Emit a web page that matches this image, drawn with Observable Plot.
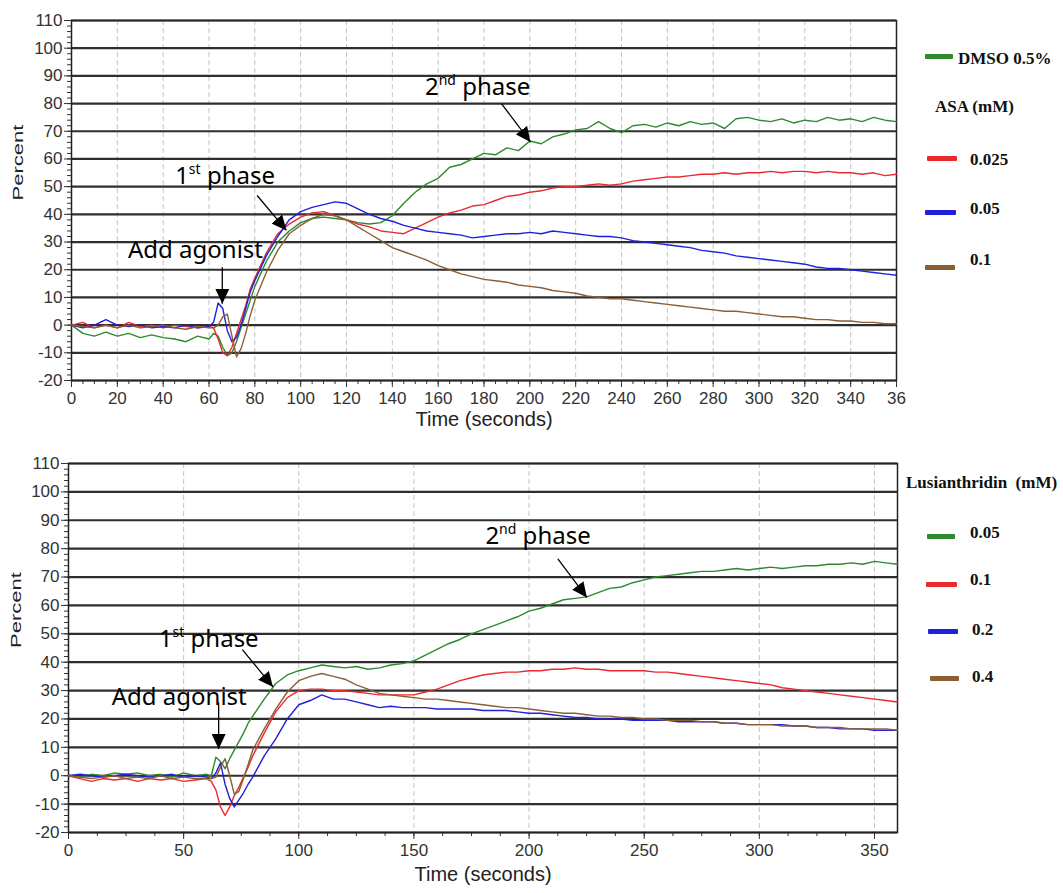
<!DOCTYPE html>
<html><head><meta charset="utf-8">
<script src="https://cdn.jsdelivr.net/npm/d3@7"></script>
<script src="https://cdn.jsdelivr.net/npm/@observablehq/plot@0.6"></script>
<style>
body{margin:0;background:#fff;width:1063px;height:893px;position:relative;overflow:hidden;font-family:"Liberation Sans",Arial,sans-serif;}
#top{position:absolute;left:0;top:0;}
#bot{position:absolute;left:0;top:450px;}
.leg{position:absolute;font-family:"Liberation Serif","Times New Roman",serif;font-weight:bold;font-size:17px;color:#111;line-height:17px;white-space:pre;}
.sw{position:absolute;height:5px;border-radius:1px;}
</style></head><body>
<div id="top"></div><div id="bot"></div><div id="legend"></div>
<script>
// ---------- data ----------
const time = [0,5,10,15,20,25,30,35,40,45,
  50,55,60,62,64,66,68,70,72,74,
  76,78,80,85,90,95,100,105,110,115,
  120,125,130,135,140,145,150,155,160,165,
  170,175,180,185,190,195,200,205,210,215,
  220,225,230,235,240,245,250,255,260,265,
  270,275,280,285,290,295,300,305,310,315,
  320,325,330,335,340,345,350,355,360];

// Top panel: DMSO / ASA
const topNames = ["DMSO 0.5%","0.025","0.05","0.1"];
const topColors = ["#2d8a2d","#e82a2e","#2020dc","#8b5e34"];
const topDMSO = [0,-3,-4,-2.5,-4,-3,-4.5,-3.5,-4.5,-5,
  -6,-4,-5,-3,-4,-8,-11,-10,-6,-1,
  4,9,14,23,30,34,37,38.5,39,38.5,
  38,37,36.5,37,39.5,44,48,51,53,57,
  58,60,62,61.5,64,63,66.5,65.5,68,69,
  70.5,71,73.5,71,69.5,72,72.5,71.5,73,72,
  73.5,72.5,73,71,74.5,75,74,73.5,74.5,73,
  74,73.5,75,74,74.5,73.5,75,74,73.5];
const topASA025 = [0,1,-1,0,-1,1,-0.5,0,-1,0,
  -0.5,-1,-0.5,-1,-5,-10,-11,-8,-3,2,
  7,13,17,26,33,36.5,39,40.5,41,39.5,
  38,36.5,35.5,34,33.5,33,35,37,39,40.5,
  41.5,43,43.5,45,46.5,47,48,48.5,49.5,50,
  50,50.5,51,50.5,51,52,52.5,53,53.5,53.5,
  54,54.5,54.5,55,54.5,55,55,55.5,55,55.5,
  55.5,55,55.5,55,55,54.5,55,54,54.5];
const topASA05 = [0,-1,0,2,0,-0.5,0,-1,-0.5,-1,
  0,-1,-0.5,1,8,6,-2,-6,-4.5,0,
  6,12,16,25,32,38,41,42.5,43.5,44.5,
  44,42,40,38.5,37.5,36,35,34,33.5,33,
  32.5,31.5,32,32.5,33,33,33.5,33,34,33.5,
  33,32.5,32,32,31.5,30.5,30,29.5,29,28.5,
  28,27,26.5,26,25,24.5,24,23.5,23,22.5,
  22,21,20.5,20.5,20,19.5,19,18.5,18];
const topASA1 = [0,-0.5,-1,0,-1,0,-1,-0.5,0,-1,
  -1.5,-0.5,-1,-1,0,3,4,-4,-11.5,-8.5,
  -3,3.5,9,19,27,33,36,38.5,40,39.5,
  38,35.5,33,30.5,28,26.5,25,23.5,21.5,20,
  18.5,17.5,16.5,16,15.5,14.5,14,13.5,12.5,12,
  11.5,10.5,10,9.5,9.5,9,8.5,8,7.5,7,
  6.5,6,5.5,5,5,4.5,4,3.5,3,3,
  2.5,2,2,1.5,1.5,1,1,0.5,0.5];

// Bottom panel: Lusianthridin
const botNames = ["0.05","0.1","0.2","0.4"];
const botColors = ["#2d8a2d","#e82a2e","#2020dc","#8b5e34"];
const botL005 = [0,-0.5,0.5,0,1,0.5,1,0,0.5,-0.5,
  1,0,0.5,0,6.5,5,2.5,6,9,12,
  15,18.5,21,27,32.5,35.5,37,38,39,38.5,
  38,38.5,37.5,38,39,39.5,40.5,42.5,44.5,46.5,
  48,50,51.5,53,54.5,56,58,59,60.5,62,
  62.5,63,64.5,66,66.5,68,69,70,70.5,71,
  71.5,72,72,72.5,73,72.5,73,73.5,73,73.5,
  74,74,74.5,74.5,75,74.5,75.5,75,74.5];
const botL01 = [0,-1,-2,-1,-1.5,-1,-2,-1,-1.5,-1,
  -2,-1.5,-1,-2,-5,-11,-14,-11,-7,-4,
  -0.5,3,7,15,22.5,27.5,30,30.5,30.5,30,
  30,29.5,29,28.5,28.5,28.5,28.5,29.5,30.5,32,
  33.5,34.5,35.5,36,36.5,36.5,37,37,37.5,37.5,
  38,37.5,37.5,37,37,37,37,36.5,36.5,36,
  35.5,35,34.5,34,33.5,33,32.5,32,31,30.5,
  30,29.5,29,28.5,28,27.5,27,26.5,26];
const botL02 = [0,0.5,0,-0.5,0,0.5,0,-0.5,0,0.5,
  -0.5,0,-0.5,-1,1,4.5,-3,-8,-11,-8.5,
  -6,-3,-0.5,7,13,20,25,26.5,28.5,27,
  27,26,25,24,24.5,24,24,24,23.5,23.5,
  23.5,23.5,23,23,23,22.5,22,22,21.5,21,
  20.5,20.5,20,20,20,19.5,19.5,19.5,19.5,19,
  19,19,19,18.5,18.5,18,18,18,18,17.5,
  17.5,17,17,16.5,16.5,16.5,16,16,16];
const botL04 = [0,-0.5,-1,-0.5,0,-1,-0.5,-1,0,-1,
  -0.5,-1,-1,-1,-0.5,3,6,0,-6.5,-5.5,
  -1,4,9,16.5,23.5,29.5,33.5,35,36,35,
  34,32,30.5,29,28.5,28,27.5,27,27,26.5,
  26,25.5,25,24.5,24,24,23.5,23,22.5,22,
  22,21.5,21,21,20.5,20.5,20,20,19.5,19.5,
  19.5,19,19,18.5,18.5,18,18,18,17.5,17.5,
  17.5,17,17,17,16.5,16.5,16.5,16.5,16];

// Axis ticks and labels
const yTicks = [-20,-10,0,10,20,30,40,50,60,70,80,90,100,110];
const topXTicks = [0,20,40,60,80,100,120,140,160,180,200,220,240,260,280,300,320,340,360];
const topXTickLabels = ["0","20","40","60","80","100","120","140","160","180","200","220","240","260","280","300","320","340","36"];
const botXTicks = [0,50,100,150,200,250,300,350];
const botXTickLabels = ["0","50","100","150","200","250","300","350"];

// Annotations (data coordinates)
const topNotes = [
  {label:"Add agonist", t:54.1, v:26.9},
  {label:"1st phase", t:67, v:53.7},
  {label:"2nd phase", t:177.2, v:85.8}];
const topArrows = [
  {t1:65.8, v1:20.9, t2:65.8, v2:7.7},
  {t1:81, v1:46.8, t2:93.8, v2:34.2},
  {t1:187.6, v1:80, t2:200.3, v2:66.1}];
const botNotes = [
  {label:"Add agonist", t:48.1, v:27.5},
  {label:"1st phase", t:60.9, v:48.2},
  {label:"2nd phase", t:203.9, v:84.2}];
const botArrows = [
  {t1:65.2, v1:25.8, t2:65.2, v2:9.4},
  {t1:75.5, v1:44.4, t2:88.8, v2:31.3},
  {t1:212.5, v1:76.4, t2:225.1, v2:62.8}];

// ---------- drawing ----------
function toRows(names, arrays) {
  const rows = [];
  names.forEach((n, k) => arrays[k].forEach((v, i) => rows.push({t: time[i], v, s: n})));
  return rows;
}

function chart(cfg) {
  const labelMap = new Map(cfg.xTicks.map((d, i) => [d, cfg.xTickLabels[i]]));
  const svg = Plot.plot({
    width: 900, height: cfg.height,
    marginLeft: cfg.ml, marginRight: cfg.mr, marginTop: cfg.mt, marginBottom: cfg.mb,
    x: {domain: [0, 360]},
    y: {domain: [-20, 110]},
    color: {domain: cfg.names, range: cfg.colors},
    style: {fontFamily: "Liberation Sans, Arial, sans-serif", fontSize: "17px", color: "#333", background: "white", overflow: "visible"},
    marks: [
      Plot.ruleX(cfg.vGrid, {stroke: "#c4c4c4", strokeDasharray: "5,3", strokeWidth: 1}),
      Plot.ruleY(yTicks, {stroke: "#2e2e2e", strokeWidth: 2.2}),
      Plot.axisY({ticks: d3.range(-20, 111, 2), tickSize: 4, tickFormat: () => "", label: null}),
      Plot.axisY({ticks: yTicks, tickSize: 7, tickPadding: 2, tickFormat: d => String(d), label: null}),
      Plot.axisX({ticks: cfg.xMinor, tickSize: 4, tickFormat: () => "", label: null}),
      Plot.axisX({ticks: cfg.xTicks, tickSize: 7, tickPadding: 4, tickFormat: d => labelMap.get(d), label: null}),
      Plot.frame({stroke: "#222", strokeWidth: 1.5}),
      Plot.line(cfg.rows, {x: "t", y: "v", z: "s", stroke: "s", strokeWidth: 1.4}),
      Plot.link(cfg.arrows, {x1: "t1", y1: "v1", x2: "t2", y2: "v2", stroke: "black", strokeWidth: 1.3}),
      Plot.text(cfg.notes, {x: "t", y: "v", text: "label", fontSize: 24, fontFamily: "Noto Sans", fill: "black"}),
      Plot.text(["Time (seconds)"], {text: d => d, frameAnchor: "bottom", dy: cfg.timeDy, fontSize: 20, fill: "#222"}),
      Plot.text(["Percent"], {text: d => d, frameAnchor: "left", dx: cfg.pctDx, rotate: -90, fontSize: 14, fill: "#222"})
    ]
  });
  // arrowheads
  const ns = "http://www.w3.org/2000/svg";
  const defs = document.createElementNS(ns, "defs");
  const marker = document.createElementNS(ns, "marker");
  marker.setAttribute("id", cfg.id + "ah");
  marker.setAttribute("viewBox", "0 -7 15 14");
  marker.setAttribute("markerWidth", "15");
  marker.setAttribute("markerHeight", "14");
  marker.setAttribute("refX", "15");
  marker.setAttribute("refY", "0");
  marker.setAttribute("orient", "auto");
  marker.setAttribute("markerUnits", "userSpaceOnUse");
  const mp = document.createElementNS(ns, "path");
  mp.setAttribute("d", "M0,-7L15,0L0,7Z");
  mp.setAttribute("fill", "black");
  marker.appendChild(mp); defs.appendChild(marker); svg.insertBefore(defs, svg.firstChild);
  svg.querySelectorAll('g[aria-label="link"] path, g[aria-label="link"] line').forEach(p => p.setAttribute("marker-end", `url(#${cfg.id}ah)`));
  // superscripts and stretched y label
  svg.querySelectorAll("text").forEach(t => {
    const m = t.textContent.match(/^(\d)(st|nd) phase$/);
    if (m && t.children.length === 0) {
      t.textContent = "";
      const a = document.createElementNS(ns, "tspan"); a.textContent = m[1];
      const b = document.createElementNS(ns, "tspan"); b.textContent = m[2]; b.setAttribute("font-size", "14"); b.setAttribute("dy", "-10");
      const c = document.createElementNS(ns, "tspan"); c.textContent = "\u00a0phase"; c.setAttribute("dy", "10");
      t.append(a, b, c);
    }
    if (t.textContent === "Percent") {
      t.setAttribute("textLength", "76");
      t.setAttribute("lengthAdjust", "spacingAndGlyphs");
    }
  });
  return svg;
}

document.getElementById("top").appendChild(chart({
  id: "top", height: 445, ml: 71, mr: 4, mt: 20, mb: 65,
  names: topNames, colors: topColors,
  rows: toRows(topNames, [topDMSO, topASA025, topASA05, topASA1]),
  xTicks: topXTicks, xTickLabels: topXTickLabels, xMinor: d3.range(0, 361, 5),
  vGrid: d3.range(20, 360, 20), notes: topNotes, arrows: topArrows,
  timeDy: 45, pctDx: -53
}));
document.getElementById("bot").appendChild(chart({
  id: "bot", height: 443, ml: 68, mr: 3, mt: 13, mb: 61,
  names: botNames, colors: botColors,
  rows: toRows(botNames, [botL005, botL01, botL02, botL04]),
  xTicks: botXTicks, xTickLabels: botXTickLabels, xMinor: d3.range(0, 361, 12.5),
  vGrid: d3.range(50, 360, 50), notes: botNotes, arrows: botArrows,
  timeDy: 48, pctDx: -52
}));

// ---------- legends ----------
const topLegendItems = [
  {label: "DMSO 0.5%", color: topColors[0], sw: [925, 54, 28], tx: [958, 50]},
  {label: "ASA (mM)", color: null, tx: [935, 98]},
  {label: "0.025", color: topColors[1], sw: [927, 156, 30], tx: [970, 151]},
  {label: "0.05", color: topColors[2], sw: [925, 209.5, 31], tx: [970, 200]},
  {label: "0.1", color: topColors[3], sw: [925, 264.5, 30], tx: [970, 251]}];
const botLegendItems = [
  {label: "Lusianthridin  (mM)", color: null, tx: [906, 474]},
  {label: "0.05", color: botColors[0], sw: [927, 534, 28], tx: [970, 524]},
  {label: "0.1", color: botColors[1], sw: [926, 582, 31], tx: [970, 571]},
  {label: "0.2", color: botColors[2], sw: [928, 629, 30], tx: [972, 621]},
  {label: "0.4", color: botColors[3], sw: [930, 675.5, 29], tx: [972, 668]}];
const legend = document.getElementById("legend");
[...topLegendItems, ...botLegendItems].forEach(it => {
  if (it.color) {
    const s = document.createElement("div");
    s.className = "sw";
    s.style.left = it.sw[0] + "px"; s.style.top = it.sw[1] + "px"; s.style.width = it.sw[2] + "px";
    s.style.background = it.color;
    legend.appendChild(s);
  }
  const d = document.createElement("div");
  d.className = "leg";
  d.textContent = it.label;
  d.style.left = it.tx[0] + "px"; d.style.top = it.tx[1] + "px";
  legend.appendChild(d);
});
</script></body></html>
